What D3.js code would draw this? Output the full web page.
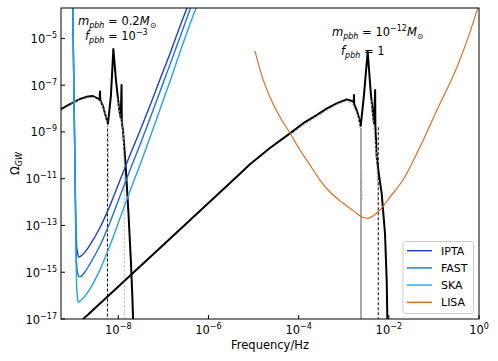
<!DOCTYPE html>
<html lang="en">
<head>
<meta charset="utf-8">
<title>Omega_GW vs frequency</title>
<script src="https://d3js.org/d3.v7.min.js"></script>
<style>
  body { margin: 0; background: #fff; }
  text { font-family: "DejaVu Sans", sans-serif; fill: #000; }
</style>
</head>
<body>
<div id="chart"></div>
<script>
// all curves: [log10(f / Hz), log10(Omega_GW)]
const iptaCurve = [[-9.01,-3.5],[-8.985,-7],[-8.96,-10.5],[-8.94,-13],[-8.925,-13.8],[-8.905,-14.15],[-8.87,-14.35],[-8.83,-14.31],[-8.74,-14.14],[-8.63,-13.84],[-8.41,-13.11],[-8.18,-12.13],[-7.96,-11.06],[-7.74,-9.99],[-7.52,-8.96],[-7.30,-7.89],[-7.08,-6.78],[-6.85,-5.63],[-6.63,-4.47],[-6.43,-3.47]];
const fastCurve = [[-9.01,-3.5],[-8.985,-7],[-8.96,-10.5],[-8.94,-13.5],[-8.925,-14.6],[-8.9,-15.05],[-8.86,-15.2],[-8.82,-15.17],[-8.74,-14.99],[-8.63,-14.65],[-8.41,-13.88],[-8.18,-12.85],[-7.96,-11.74],[-7.74,-10.63],[-7.52,-9.56],[-7.30,-8.45],[-7.08,-7.30],[-6.85,-6.10],[-6.63,-4.94],[-6.38,-3.6]];
const skaCurve = [[-9.01,-3.5],[-8.985,-7],[-8.96,-10.5],[-8.94,-14],[-8.925,-15.5],[-8.905,-16.1],[-8.887,-16.29],[-8.86,-16.25],[-8.74,-16.02],[-8.63,-15.72],[-8.41,-14.91],[-8.18,-13.84],[-7.96,-12.68],[-7.74,-11.53],[-7.52,-10.42],[-7.30,-9.26],[-7.08,-8.06],[-6.85,-6.82],[-6.63,-5.58],[-6.41,-4.39],[-6.19,-3.3]];
const lisaCurve = [[-4.968,-5.542],[-4.813,-6.611],[-4.636,-7.509],[-4.414,-8.364],[-4.192,-9.048],[-3.970,-9.775],[-3.748,-10.416],[-3.527,-11.057],[-3.305,-11.570],[-3.017,-12.041],[-2.751,-12.425],[-2.595,-12.639],[-2.462,-12.695],[-2.351,-12.596],[-2.196,-12.340],[-1.974,-11.784],[-1.686,-11.057],[-1.309,-9.646],[-0.932,-8.065],[-0.488,-6.226],[-0.200,-4.730],[0.0,-3.53]];

// m_pbh = 0.2 Msun, f_pbh = 1e-3
const pbhHeavy = [[-9.271,-8.022],[-9.071,-7.808],[-8.849,-7.594],[-8.672,-7.487],[-8.561,-7.466],[-8.472,-7.552],[-8.415,-7.62],[-8.406,-7.274],[-8.399,-7.637],[-8.339,-7.894],[-8.273,-8.364],[-8.228,-8.642],[-8.162,-7.423],[-8.109,-5.457],[-8.051,-6.782],[-7.978,-8.065],[-7.945,-8.407],[-7.927,-6.996],[-7.922,-8.578],[-7.896,-8.920],[-7.840,-10.330],[-7.774,-12.468],[-7.718,-14.606],[-7.685,-16.188],[-7.667,-17.3]];
const pbhHeavyFitA = [[-9.271,-8.107],[-8.960,-7.701],[-8.672,-7.530],[-8.517,-7.530],[-8.406,-7.680],[-8.317,-8.022],[-8.262,-8.449],[-8.228,-8.834],[-8.217,-9.775],[-8.211,-11.912]];
const pbhHeavyFitB = [[-8.029,-7.552],[-7.973,-8.150],[-7.929,-8.578],[-7.885,-9.133],[-7.869,-10.630],[-7.862,-17.3]];

// m_pbh = 1e-12 Msun, f_pbh = 1
const pbhLight = [[-8.894,-17.214],[-8.776,-17.0],[-7.075,-13.965],[-5.450,-11.057],[-5.079,-10.386],[-4.636,-9.689],[-4.192,-9.061],[-3.859,-8.578],[-3.600,-8.278],[-3.378,-8.0],[-3.156,-7.778],[-2.935,-7.607],[-2.817,-7.680],[-2.777,-7.723],[-2.773,-7.423],[-2.768,-7.808],[-2.713,-8.065],[-2.662,-8.407],[-2.624,-8.749],[-2.551,-7.423],[-2.469,-5.572],[-2.396,-7.423],[-2.329,-8.633],[-2.303,-7.210],[-2.298,-8.749],[-2.269,-10.061],[-2.218,-10.843],[-2.158,-11.626],[-2.085,-13.336],[-2.047,-15.333],[-2.030,-17.3]];
const pbhLightFitA = [[-4.192,-9.133],[-3.600,-8.342],[-3.156,-7.829],[-2.928,-7.680],[-2.817,-7.808],[-2.728,-8.107],[-2.662,-8.492],[-2.629,-8.920],[-2.606,-10.202],[-2.595,-11.912]];
const pbhLightFitB = [[-2.396,-7.637],[-2.340,-8.706],[-2.284,-9.775],[-2.251,-11.057],[-2.240,-11.912]];

// vertical cut-off lines: [log10 f, top log10 Omega, colour, dashed]
const cutoffs = [[-8.240,-8.642,"#000",true],[-2.617,-8.83,"#555",false],[-2.234,-8.8,"#000",true]];

const legendNames = ["IPTA", "FAST", "SKA", "LISA"];
const legendColors = ["#1f3fc0", "#1a6ee8", "#1fa3f2", "#dd6d25"];
const xTickExps = [-8, -6, -4, -2, 0];
const yTickExps = [-17, -15, -13, -11, -9, -7, -5];

const width = 498, height = 361;
const plot = { left: 61, right: 479, top: 8, bottom: 319 };

const svg = d3.select("#chart").append("svg")
    .attr("width", width)
    .attr("height", height);

const x = d3.scaleLog().domain([Math.pow(10, -9.27), 1]).range([plot.left, plot.right]);
const y = d3.scaleLog().domain([1e-17, Math.pow(10, -3.7)]).range([plot.bottom, plot.top]);

svg.append("clipPath").attr("id", "clip")
  .append("rect")
    .attr("x", plot.left).attr("y", plot.top)
    .attr("width", plot.right - plot.left).attr("height", plot.bottom - plot.top);

const line = d3.line()
    .x(d => x(Math.pow(10, d[0])))
    .y(d => y(Math.pow(10, d[1])));
const smooth = d3.line()
    .x(d => x(Math.pow(10, d[0])))
    .y(d => y(Math.pow(10, d[1])))
    .curve(d3.curveMonotoneX);

const g = svg.append("g").attr("clip-path", "url(#clip)");

function draw(data, color, w, gen, dash) {
  g.append("path")
      .attr("d", gen(data))
      .attr("fill", "none")
      .attr("stroke", color)
      .attr("stroke-width", w)
      .attr("stroke-linejoin", "round")
      .attr("stroke-dasharray", dash || null);
}

// cut-off lines
cutoffs.forEach(c => {
  g.append("line")
      .attr("x1", x(Math.pow(10, c[0]))).attr("x2", x(Math.pow(10, c[0])))
      .attr("y1", y(Math.pow(10, c[1]))).attr("y2", plot.bottom + 5)
      .attr("stroke", c[2])
      .attr("stroke-width", 1)
      .attr("stroke-dasharray", c[3] ? "3,2" : null);
});

draw(pbhHeavy, "#000", 2, line);
draw(pbhLight, "#000", 2, line);
[pbhHeavyFitA, pbhHeavyFitB, pbhLightFitA, pbhLightFitB].forEach(d => draw(d, "#aaa", 1, line, "2,2"));

draw(iptaCurve, legendColors[0], 1.4, smooth);
draw(fastCurve, legendColors[1], 1.4, smooth);
draw(skaCurve, legendColors[2], 1.4, smooth);
draw(lisaCurve, legendColors[3], 1.2, smooth);

// frame
svg.append("rect")
    .attr("x", plot.left).attr("y", plot.top)
    .attr("width", plot.right - plot.left).attr("height", plot.bottom - plot.top)
    .attr("fill", "none").attr("stroke", "#000").attr("stroke-width", 1);

// ticks (inward)
xTickExps.forEach(e => {
  const px = x(Math.pow(10, e));
  svg.append("line").attr("x1", px).attr("x2", px)
      .attr("y1", plot.bottom).attr("y2", plot.bottom - 4)
      .attr("stroke", "#000");
  const t = svg.append("text").attr("x", px).attr("y", 333.5)
      .attr("text-anchor", "middle").attr("font-size", 11.5);
  t.append("tspan").text("10");
  t.append("tspan").attr("dy", -5).attr("font-size", 8).text(e === 0 ? "0" : "\u2212" + (-e));
});

yTickExps.forEach(e => {
  const py = y(Math.pow(10, e));
  svg.append("line").attr("x1", plot.left).attr("x2", plot.left + 4)
      .attr("y1", py).attr("y2", py)
      .attr("stroke", "#000");
  const t = svg.append("text").attr("x", 57).attr("y", py + 4.5)
      .attr("text-anchor", "end").attr("font-size", 11.5);
  t.append("tspan").text("10");
  t.append("tspan").attr("dy", -5).attr("font-size", 8).text("\u2212" + (-e));
});

// axis labels
svg.append("text").attr("x", (plot.left + plot.right) / 2).attr("y", 348.5)
    .attr("text-anchor", "middle").attr("font-size", 11.5)
    .text("Frequency/Hz");

const yl = svg.append("text")
    .attr("transform", "translate(19," + ((plot.top + plot.bottom) / 2) + ") rotate(-90)")
    .attr("text-anchor", "middle").attr("font-size", 11.5);
yl.append("tspan").text("\u03A9");
yl.append("tspan").attr("dy", 3).attr("font-size", 8).attr("font-style", "italic").text("GW");

// annotations, built from [text, italic, dy, size]
function richText(x0, y0, parts) {
  const t = svg.append("text").attr("x", x0).attr("y", y0).attr("font-size", 11.5);
  parts.forEach(p => {
    t.append("tspan")
        .attr("dy", p[2])
        .attr("font-size", p[3] || null)
        .attr("font-style", p[1] ? "italic" : null)
        .text(p[0]);
  });
}
richText(78, 25, [["m", true, 0], ["pbh", true, 2.5, 8], [" = 0.2", false, -2.5], ["M", true, 0], ["\u2299", false, 2.5, 8]]);
richText(85, 40, [["f", true, 0], ["pbh", true, 2.5, 8], [" = 10", false, -2.5], ["\u22123", false, -5, 8]]);
richText(332, 36, [["m", true, 0], ["pbh", true, 2.5, 8], [" = 10", false, -2.5], ["\u221212", false, -5, 8], ["M", true, 5], ["\u2299", false, 2.5, 8]]);
richText(341, 55, [["f", true, 0], ["pbh", true, 2.5, 8], [" = 1", false, -2.5]]);

// legend
const lg = svg.append("g");
lg.append("rect")
    .attr("x", 403).attr("y", 241.5).attr("width", 70.5).attr("height", 72)
    .attr("rx", 2.5).attr("fill", "#fff").attr("fill-opacity", 0.8)
    .attr("stroke", "#ccc").attr("stroke-width", 1);
legendNames.forEach((n, i) => {
  const ly = 250.7 + i * 17.2;
  lg.append("line").attr("x1", 407).attr("x2", 432)
      .attr("y1", ly).attr("y2", ly)
      .attr("stroke", legendColors[i]).attr("stroke-width", 1.4);
  lg.append("text").attr("x", 441).attr("y", ly + 4).attr("font-size", 11).text(n);
});
</script>
</body>
</html>
